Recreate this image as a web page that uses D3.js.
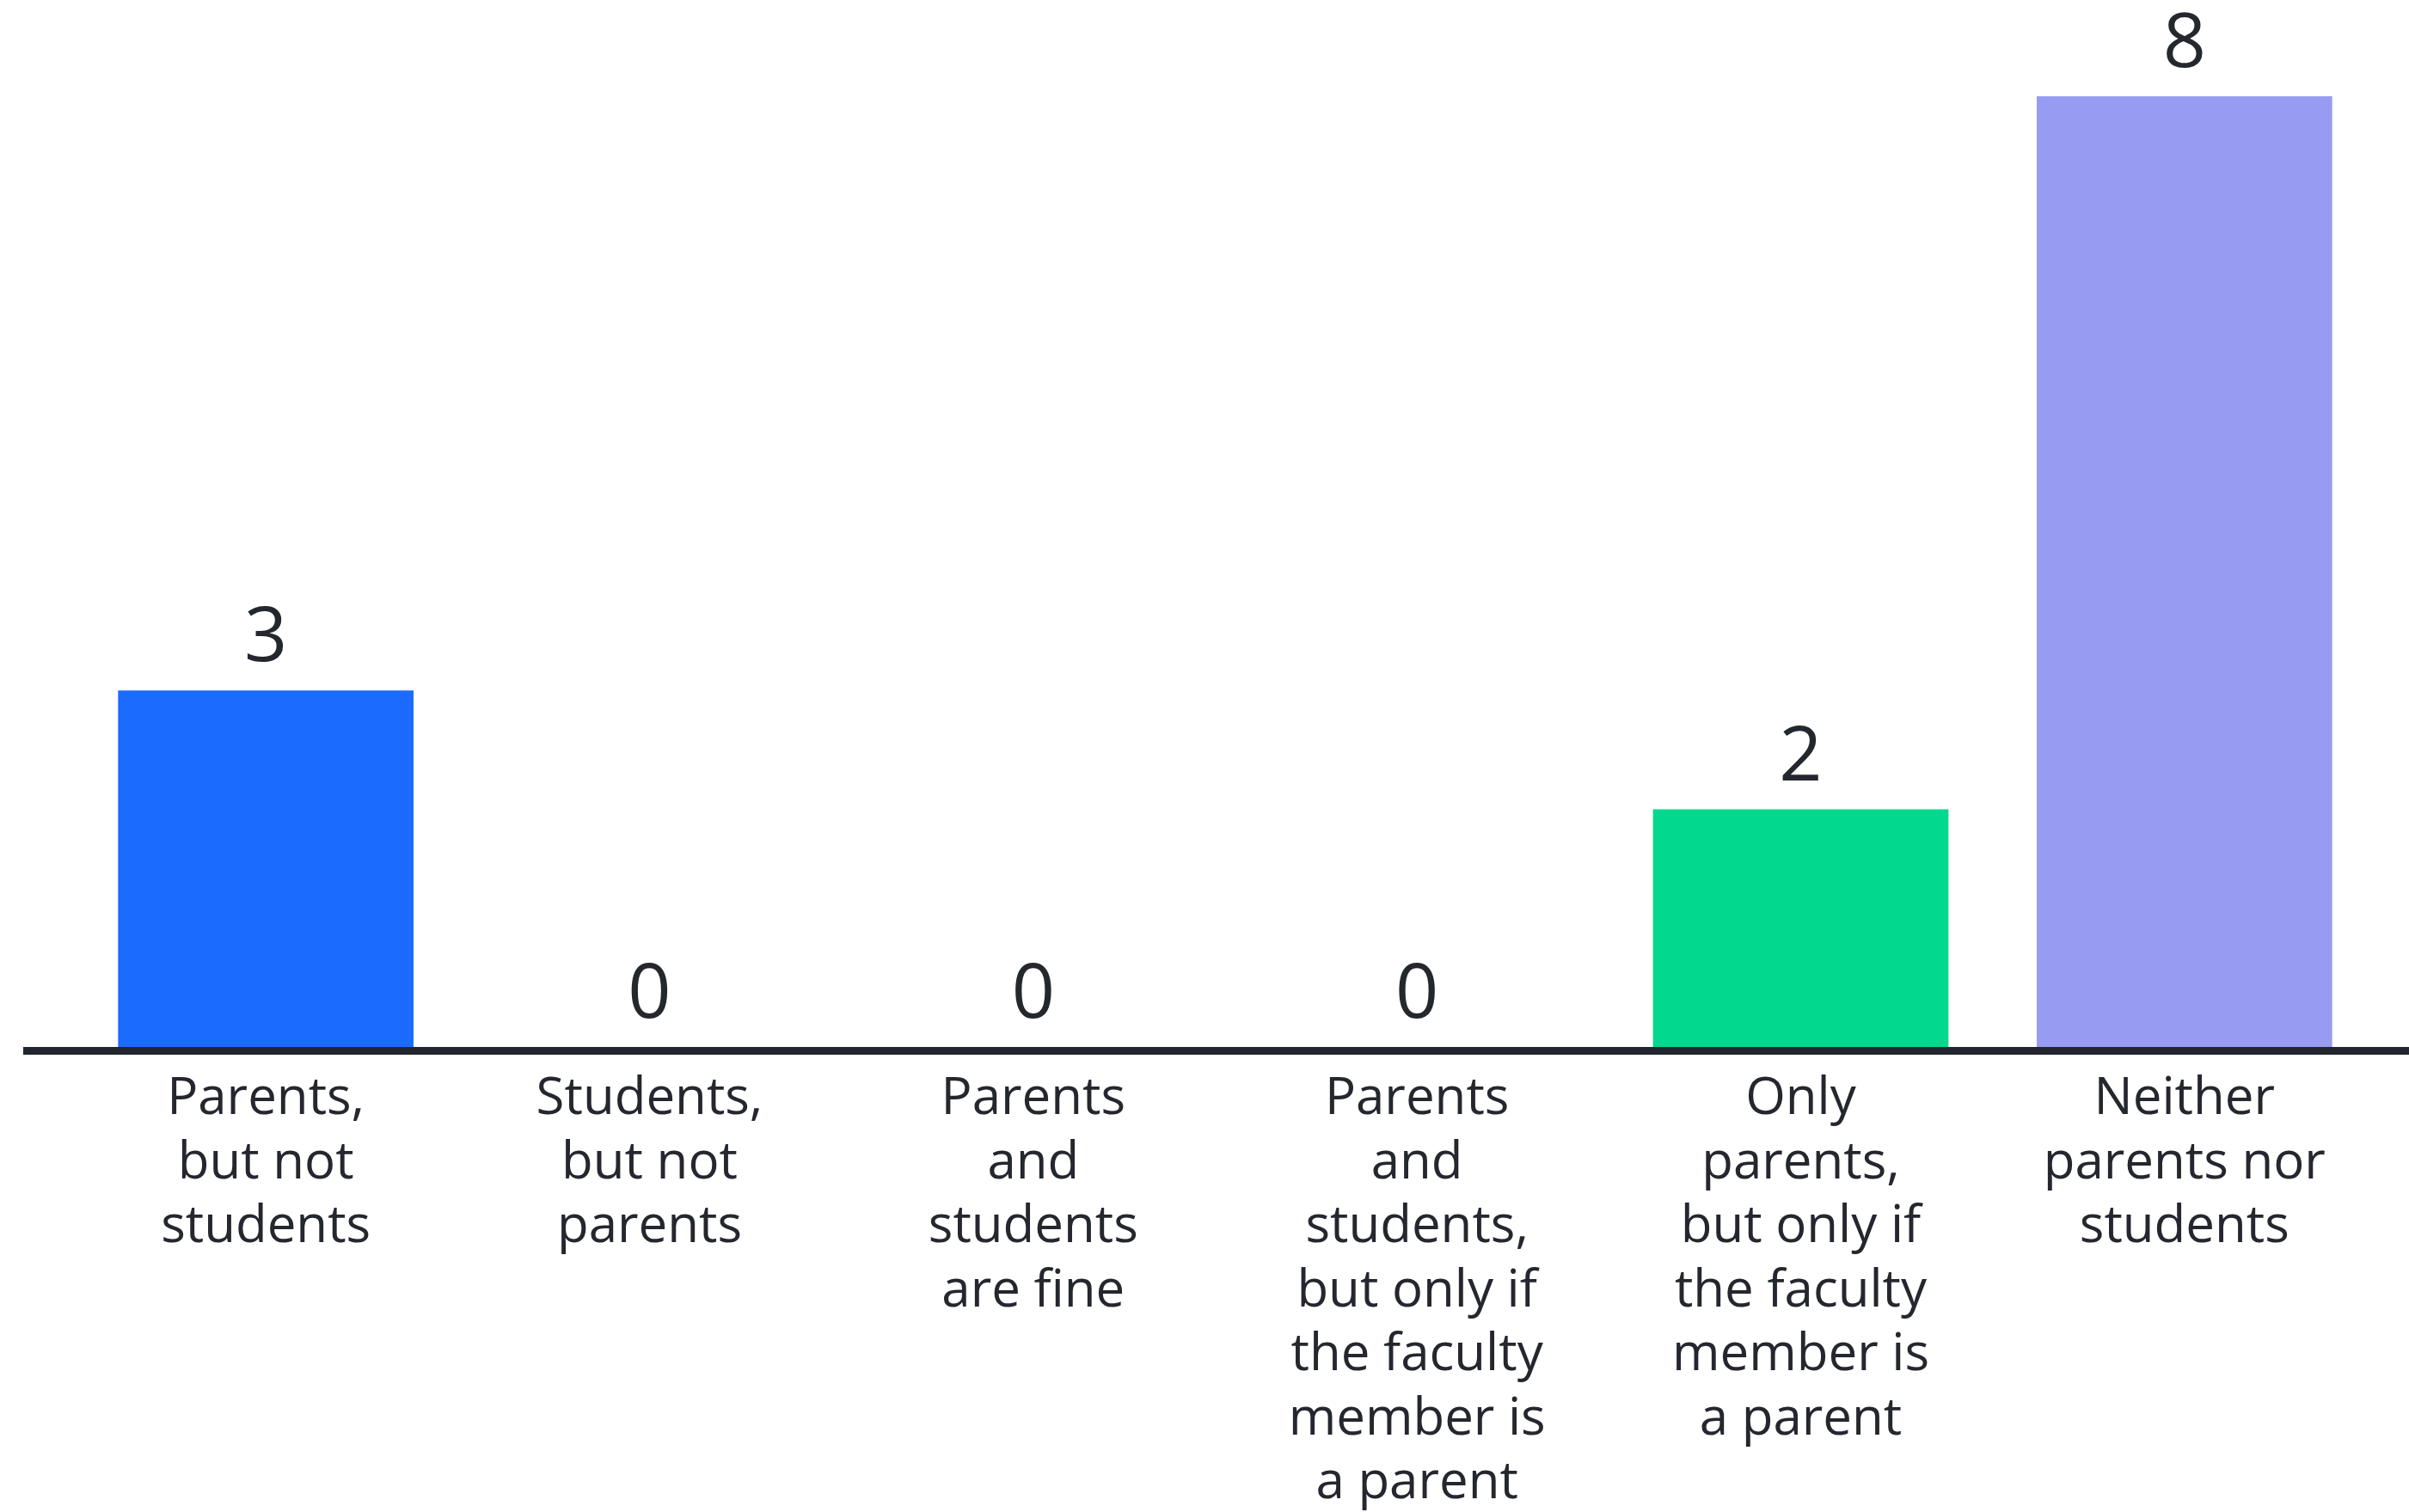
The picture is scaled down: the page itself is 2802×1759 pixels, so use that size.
<!DOCTYPE html>
<html>
<head>
<meta charset="utf-8">
<script src="https://cdn.jsdelivr.net/npm/d3@7"></script>
<style>
  html, body { margin: 0; padding: 0; background: #ffffff; }
  svg { display: block; }
  text { font-family: "Open Sans", "Noto Sans", sans-serif; fill: #25272f; }
</style>
</head>
<body>
<svg id="chart" width="2802" height="1759"></svg>
<script>
// Survey responses: who may be brought along
const categories = [
  "Parents, but not students",
  "Students, but not parents",
  "Parents and students are fine",
  "Parents and students, but only if the faculty member is a parent",
  "Only parents, but only if the faculty member is a parent",
  "Neither parents nor students"
];
const values = [3, 0, 0, 0, 2, 8];
const barColors = ["#1c6bff", "#1c6bff", "#1c6bff", "#1c6bff", "#02d98f", "#979cf2"];
// Wrapped tick labels, one entry per line
const tickLines = [
  ["Parents,", "but not", "students"],
  ["Students,", "but not", "parents"],
  ["Parents", "and", "students", "are fine"],
  ["Parents", "and", "students,", "but only if", "the faculty", "member is", "a parent"],
  ["Only", "parents,", "but only if", "the faculty", "member is", "a parent"],
  ["Neither", "parents nor", "students"]
];

const svg = d3.select("#chart");

const x = d3.scaleBand()
  .domain(categories)
  .range([86, 2764])
  .paddingInner(0.23)
  .paddingOuter(0.115);

const y = d3.scaleLinear()
  .domain([0, 8])
  .range([1218, 112]);

// Bars
svg.append("g")
  .selectAll("rect")
  .data(categories)
  .join("rect")
  .attr("x", d => x(d))
  .attr("width", x.bandwidth())
  .attr("y", (d, i) => y(values[i]))
  .attr("height", (d, i) => y(0) - y(values[i]))
  .attr("fill", (d, i) => barColors[i]);

// Value labels above each bar
svg.append("g")
  .selectAll("text")
  .data(categories)
  .join("text")
  .attr("x", d => x(d) + x.bandwidth() / 2)
  .attr("y", (d, i) => y(values[i]) - 34)
  .attr("text-anchor", "middle")
  .style("font-size", "88px")
  .text((d, i) => values[i]);

// Baseline axis
const axis = d3.axisBottom(x).tickSize(0).tickFormat("");
const axisG = svg.append("g")
  .attr("transform", `translate(0, ${y(0) + 4.5})`)
  .call(axis);
axisG.select(".domain").remove();
axisG.append("line")
  .attr("x1", 27)
  .attr("x2", 2802)
  .attr("stroke", "#22252f")
  .attr("stroke-width", 9);

// Wrapped category labels
const labels = svg.append("g")
  .selectAll("text")
  .data(categories)
  .join("text")
  .attr("x", d => x(d) + x.bandwidth() / 2)
  .attr("y", 1296)
  .attr("text-anchor", "middle")
  .style("font-size", "60px");

labels.each(function(d, i) {
  const t = d3.select(this);
  tickLines[i].forEach((line, j) => {
    t.append("tspan")
      .attr("x", x(d) + x.bandwidth() / 2)
      .attr("y", 1296 + j * 74.5)
      .text(line);
  });
});
</script>
</body>
</html>
